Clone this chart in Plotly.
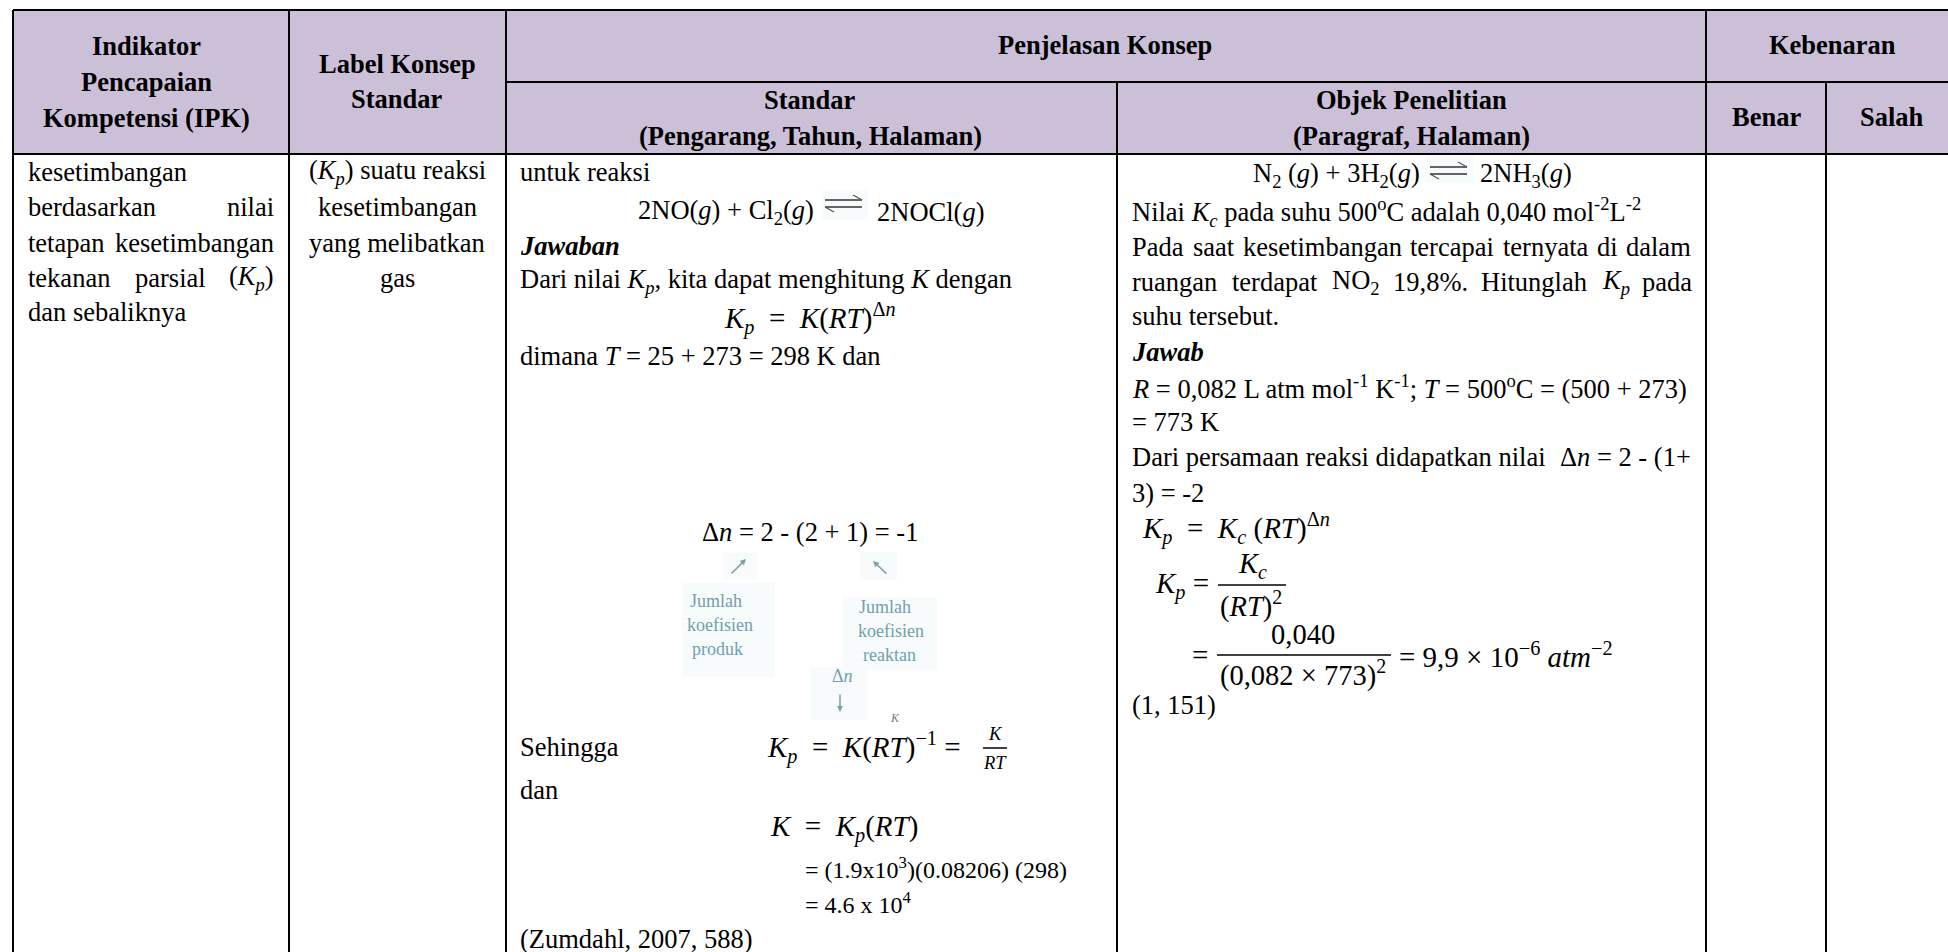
import plotly.graph_objects as go

# table grid
col_edges = [13, 289, 506, 1117, 1706, 1826, 1948]
row_edges = [10, 82, 154, 952]
header_fill = '#CCC0D9'
serif = 'Liberation Serif'

# header texts
head_main = ['Indikator', 'Pencapaian', 'Kompetensi (IPK)', 'Label Konsep', 'Standar', 'Penjelasan Konsep', 'Kebenaran']
head_main_x = [146, 146, 146, 397, 397, 1105, 1832]
head_main_y = [46, 82, 118, 64, 99, 45, 45]
head_sub = ['Standar', '(Pengarang, Tahun, Halaman)', 'Objek Penelitian', '(Paragraf, Halaman)', 'Benar', 'Salah']
head_sub_x = [810, 810, 1411, 1411, 1766, 1892]
head_sub_y = [100, 136, 100, 136, 117, 117]

# left aligned body text
left_text = ['kesetimbangan', 'berdasarkan', 'tetapan', 'kesetimbangan', 'tekanan', 'parsial', 'dan sebaliknya',
             'untuk reaksi', '2NO(<i>g</i>) + Cl<sub>2</sub>(<i>g</i>)', '2NOCl(<i>g</i>)', '<b><i>Jawaban</i></b>',
             'Dari nilai <i>K<sub>p</sub></i>, kita dapat menghitung <i>K</i> dengan',
             'dimana <i>T</i> = 25 + 273 = 298 K dan', 'Sehingga', 'dan', '(Zumdahl, 2007, 588)',
             'N<sub>2</sub> (<i>g</i>) + 3H<sub>2</sub>(<i>g</i>)', '2NH<sub>3</sub>(<i>g</i>)',
             'Nilai <i>K<sub>c</sub></i> pada suhu 500<sup>o</sup>C adalah 0,040 mol<sup>-2</sup>L<sup>-2</sup>',
             'Pada', 'saat', 'kesetimbangan', 'tercapai', 'ternyata', 'di',
             'ruangan', 'terdapat', 'NO<sub>2</sub>', '19,8%.',
             'Hitunglah', '<i>K<sub>p</sub></i>', 'suhu tersebut.', '<b><i>Jawab</i></b>',
             '<i>R</i> = 0,082 L atm mol<sup>-1</sup> K<sup>-1</sup>; <i>T</i> = 500<sup>o</sup>C = (500 + 273)',
             '= 773 K', 'Dari persamaan reaksi didapatkan nilai', '3) = -2', '(1, 151)']
left_x = [28, 28, 28, 115, 28, 135, 28,
          520, 638, 877, 520,
          520,
          520, 520, 520, 520,
          1253, 1480,
          1132,
          1132, 1193, 1243, 1410, 1503, 1597,
          1132, 1232, 1332, 1393,
          1481, 1602, 1132, 1132,
          1132,
          1132, 1132, 1132, 1132]
left_y = [172, 207, 243, 243, 278, 278, 312,
          172, 212, 212, 246,
          281,
          356, 747, 790, 939,
          175, 175,
          212,
          247, 247, 247, 247, 247, 247,
          282, 282, 282, 282,
          282, 282, 316, 352,
          387,
          422, 457, 493, 705]

# right aligned pieces of justified lines
right_text = ['nilai', '(<i>K<sub>p</sub></i>)', 'dalam', 'pada', 'Δ<i>n</i> = 2 - (1+']
right_x = [274, 274, 1691, 1692, 1691]
right_y = [207, 278, 247, 282, 457]

# centered body text
center_text = ['(<i>K<sub>p</sub></i>) suatu reaksi', 'kesetimbangan', 'yang melibatkan', 'gas',
               'Δ<i>n</i> = 2 - (2 + 1) = -1']
center_x = [397, 397, 397, 397, 810]
center_y = [172, 207, 243, 278, 532]

# equations, set a bit larger
math_text = ['<i>K<sub>p</sub></i>  =  <i>K</i>(<i>RT</i>)<sup>Δ<i>n</i></sup>',
             '<i>K<sub>p</sub></i>  =  <i>K</i>(<i>RT</i>)<sup>−1</sup> =',
             '<i>K</i>  =  <i>K<sub>p</sub></i>(<i>RT</i>)',
             '<i>K<sub>p</sub></i>  =  <i>K<sub>c</sub></i> (<i>RT</i>)<sup>Δ<i>n</i></sup>',
             '<i>K<sub>p</sub></i> =', '=', '= 9,9 × 10<sup>−6</sup> <i>atm</i><sup>−2</sup>']
math_x = [724, 767, 770, 1142, 1155, 1192, 1399]
math_y = [318, 747, 828, 528, 585, 655, 655]

frac_text = ['<i>K<sub>c</sub></i>', '(<i>RT</i>)<sup>2</sup>', '0,040', '(0,082 × 773)<sup>2</sup>']
frac_x = [1252, 1251, 1303, 1303]
frac_y = [565, 604, 634, 673]
frac_bar_x0 = [983, 1218, 1217]
frac_bar_x1 = [1007, 1286, 1391]
frac_bar_y = [748, 585, 655]

small_frac = ['<i>K</i>', '<i>RT</i>']
small_frac_x = [995, 995]
small_frac_y = [734, 763]

calc_text = ['= (1.9x10<sup>3</sup>)(0.08206) (298)', '= 4.6 x 10<sup>4</sup>']
calc_x = [805, 805]
calc_y = [868, 903]

# blurry pasted picture in the Standar column
pale_x0 = [682, 842, 810, 723, 860, 822, 1425]
pale_x1 = [775, 937, 867, 757, 897, 868, 1473]
pale_y0 = [583, 597, 667, 553, 552, 190, 155]
pale_y1 = [677, 670, 720, 580, 580, 220, 183]
blue_text = ['Jumlah', 'koefisien', 'produk', 'Jumlah', 'koefisien', 'reaktan', 'Δ<i>n</i>']
blue_x = [716, 720, 717, 885, 891, 889, 842]
blue_y = [601, 625, 649, 607, 631, 655, 676]
arrow_tail_x = [730, 888, 840]
arrow_tail_y = [575, 575, 693]
arrow_head_x = [746, 873, 840]
arrow_head_y = [559, 561, 712]

# equilibrium arrows: left end, right end, upper line, lower line
eq_x0 = [825, 1430]
eq_x1 = [862, 1467]
eq_top = [200, 167]
eq_low = [207, 174]

fig = go.Figure()
# empty trace so the axes exist
fig.add_trace(go.Scatter(x=[0, 1948], y=[0, 952], mode='markers', marker=dict(opacity=0), hoverinfo='skip', showlegend=False))


def put(texts, xs, ys, anchor='left', size=26.5, bold=False, color='#000000', family=serif):
    for t, x, y in zip(texts, xs, ys):
        fig.add_annotation(x=x, y=y, text='<b>%s</b>' % t if bold else t, showarrow=False, xanchor=anchor, yanchor='middle',
                           xref='x', yref='y', align=anchor, borderpad=0, borderwidth=0,
                           font=dict(family=family, size=size, color=color))


def line(x0, y0, x1, y1, width=2, color='#000000'):
    fig.add_shape(type='line', x0=x0, y0=y0, x1=x1, y1=y1, xref='x', yref='y', line=dict(color=color, width=width))


# header fill
fig.add_shape(type='rect', x0=col_edges[0], x1=col_edges[-1], y0=row_edges[0], y1=row_edges[2], xref='x', yref='y',
              fillcolor=header_fill, line=dict(width=0), layer='below')

# pale backgrounds of the pictures
for x0, x1, y0, y1 in zip(pale_x0, pale_x1, pale_y0, pale_y1):
    fig.add_shape(type='rect', x0=x0, x1=x1, y0=y0, y1=y1, xref='x', yref='y', fillcolor='#F8FBFB', line=dict(width=0), layer='below')

# grid lines, no border on the right side
line(col_edges[0], row_edges[0], col_edges[-1], row_edges[0])
line(col_edges[2], row_edges[1], col_edges[-1], row_edges[1])
line(col_edges[0], row_edges[2], col_edges[-1], row_edges[2])
for x in col_edges[:-1]:
    top = row_edges[1] if x in (col_edges[3], col_edges[5]) else row_edges[0]
    line(x, top, x, row_edges[3])

put(head_main, head_main_x, head_main_y, 'center', bold=True)
put(head_sub, head_sub_x, head_sub_y, 'center', bold=True)
put(left_text, left_x, left_y)
put(right_text, right_x, right_y, 'right')
put(center_text, center_x, center_y, 'center')
put(math_text, math_x, math_y, size=29)
put(frac_text, frac_x, frac_y, 'center', size=28.5)
put(small_frac, small_frac_x, small_frac_y, 'center', size=18.5)
put(calc_text, calc_x, calc_y, size=24)
put(blue_text, blue_x, blue_y, 'center', size=18, color='#6F9FB0')
# cut off letter at the lower edge of the picture
put(['<i>K</i>'], [895], [718], 'center', size=12, color='#777777')

for x0, x1, y in zip(frac_bar_x0, frac_bar_x1, frac_bar_y):
    line(x0, y, x1, y, width=1.5)

for x0, x1, yt, yl in zip(eq_x0, eq_x1, eq_top, eq_low):
    line(x0, yt, x1, yt, width=1.5, color='#333333')
    line(x1 - 9, yt - 5, x1, yt, width=1.2, color='#555555')
    line(x0, yl, x1, yl, width=1.5, color='#333333')
    line(x0, yl, x0 + 9, yl + 5, width=1.2, color='#555555')

for tx, ty, hx, hy in zip(arrow_tail_x, arrow_tail_y, arrow_head_x, arrow_head_y):
    fig.add_annotation(x=hx, y=hy, ax=tx, ay=ty, axref='x', ayref='y', xref='x', yref='y', text='', showarrow=True,
                       arrowhead=2, arrowsize=0.8, arrowwidth=1.5, arrowcolor='#7FA0A8')

fig.update_xaxes(range=[0, 1948], visible=False, fixedrange=True)
fig.update_yaxes(range=[952, 0], visible=False, fixedrange=True)
fig.update_layout(width=1948, height=952, margin=dict(l=0, r=0, t=0, b=0), plot_bgcolor='#FFFFFF', paper_bgcolor='#FFFFFF', showlegend=False)
# the page body has a default margin that would push the table off
fig.write_html("out.html", config=dict(displayModeBar=False),
               post_script="document.body.style.margin='0';document.documentElement.style.overflow='hidden';")
